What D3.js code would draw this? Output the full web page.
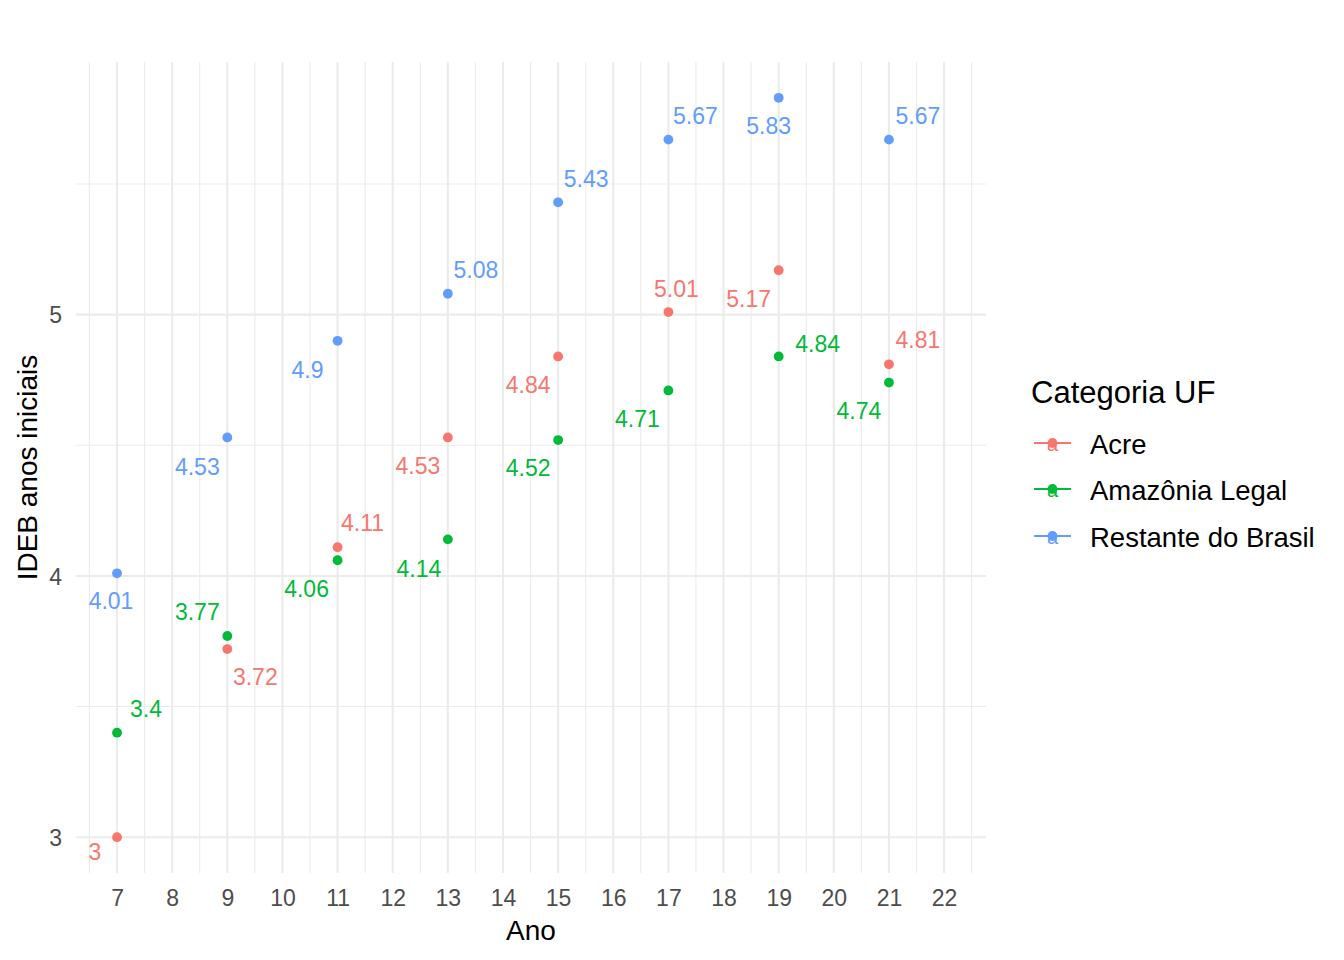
<!DOCTYPE html>
<html>
<head>
<meta charset="utf-8">
<script src="https://cdn.jsdelivr.net/npm/d3@7"></script>
<style>
  body { margin: 0; background: #fff; }
  svg { display: block; font-family: "Liberation Sans", Arial, sans-serif; }
</style>
</head>
<body>
<div id="chart"></div>
<script>
// data
const years = [7, 9, 11, 13, 15, 17, 19, 21];
const categories = ["Acre", "Amazônia Legal", "Restante do Brasil"];
const acre = [3.00, 3.72, 4.11, 4.53, 4.84, 5.01, 5.17, 4.81];
const amazonia = [3.40, 3.77, 4.06, 4.14, 4.52, 4.71, 4.84, 4.74];
const restante = [4.01, 4.53, 4.90, 5.08, 5.43, 5.67, 5.83, 5.67];
const xTicks = d3.range(7, 23);
const yTicks = [3, 4, 5];

// label placement (pixel offsets from the point, like ggrepel gave them)
const nudgeAcre = [[-22, 15], [28, 28], [25, -24], [-30, 28], [-30, 28], [8, -23], [-30, 28], [29, -25]];
const nudgeAmazonia = [[29, -24], [-30, -24], [-31, 28], [-29, 29], [-30, 28], [-31, 28], [39, -13], [-30, 28]];
const nudgeRestante = [[-6, 27], [-30, 29], [-30, 29], [28, -24], [28, -24], [27, -24], [-10, 28], [29, -24]];

const colors = ["#F8766D", "#00BA38", "#619CFF"];
const seriesValues = [acre, amazonia, restante];
const nudges = [nudgeAcre, nudgeAmazonia, nudgeRestante];

const width = 1344, height = 960;
const panel = { left: 76, right: 986, top: 62, bottom: 873 };

const svg = d3.select("#chart").append("svg")
    .attr("width", width)
    .attr("height", height);

svg.append("rect").attr("width", width).attr("height", height).attr("fill", "#fff");

const x = d3.scaleLinear().domain([6.256, 22.76]).range([panel.left, panel.right]);
const y = d3.scaleLinear().domain([2.863, 5.967]).range([panel.bottom, panel.top]);

// grid: minor first
const xMinor = d3.range(6.5, 23, 1).filter(v => v > x.domain()[0] && v < x.domain()[1]);
const yMinor = [3.5, 4.5, 5.5];
const grid = svg.append("g");
grid.selectAll(".xminor").data(xMinor).join("line")
    .attr("x1", d => x(d)).attr("x2", d => x(d))
    .attr("y1", panel.top).attr("y2", panel.bottom)
    .attr("stroke", "#EBEBEB").attr("stroke-width", 1.1);
grid.selectAll(".yminor").data(yMinor).join("line")
    .attr("y1", d => y(d)).attr("y2", d => y(d))
    .attr("x1", panel.left).attr("x2", panel.right)
    .attr("stroke", "#EBEBEB").attr("stroke-width", 1.1);
grid.selectAll(".xmajor").data(xTicks).join("line")
    .attr("x1", d => x(d)).attr("x2", d => x(d))
    .attr("y1", panel.top).attr("y2", panel.bottom)
    .attr("stroke", "#EBEBEB").attr("stroke-width", 2.1);
grid.selectAll(".ymajor").data(yTicks).join("line")
    .attr("y1", d => y(d)).attr("y2", d => y(d))
    .attr("x1", panel.left).attr("x2", panel.right)
    .attr("stroke", "#EBEBEB").attr("stroke-width", 2.1);

// axes (no lines, ticks only as labels)
const xAxis = svg.append("g")
    .attr("transform", `translate(0,${panel.bottom})`)
    .call(d3.axisBottom(x).tickValues(xTicks).tickSize(0).tickPadding(17).tickFormat(d3.format("d")));
const yAxis = svg.append("g")
    .attr("transform", `translate(${panel.left},0)`)
    .call(d3.axisLeft(y).tickValues(yTicks).tickSize(0).tickPadding(14).tickFormat(d3.format("d")));
[xAxis, yAxis].forEach(a => {
    a.select(".domain").remove();
    a.selectAll("text")
        .attr("fill", "#4D4D4D")
        .style("font-family", "Liberation Sans, Arial, sans-serif")
        .style("font-size", "23px");
});
yAxis.selectAll("text").attr("dy", "0.36em");

// axis titles
svg.append("text")
    .attr("x", (panel.left + panel.right) / 2)
    .attr("y", 940)
    .attr("text-anchor", "middle")
    .style("font-size", "28px")
    .text("Ano");

svg.append("text")
    .attr("transform", `translate(37,${(panel.top + panel.bottom) / 2}) rotate(-90)`)
    .attr("text-anchor", "middle")
    .style("font-size", "28px")
    .text("IDEB anos iniciais");

// points and labels
const fmt = v => String(+v.toFixed(2));
seriesValues.forEach((vals, s) => {
    const g = svg.append("g");
    g.selectAll("circle").data(vals).join("circle")
        .attr("cx", (d, i) => x(years[i]))
        .attr("cy", d => y(d))
        .attr("r", 4.9)
        .attr("fill", colors[s]);
    g.selectAll("text").data(vals).join("text")
        .attr("x", (d, i) => x(years[i]) + nudges[s][i][0])
        .attr("y", (d, i) => y(d) + nudges[s][i][1])
        .attr("dy", "0.36em")
        .attr("text-anchor", "middle")
        .attr("fill", colors[s])
        .style("font-size", "23px")
        .text(d => fmt(d));
});

// legend
const legend = svg.append("g");
legend.append("text")
    .attr("x", 1031).attr("y", 403)
    .style("font-size", "31px")
    .text("Categoria UF");
const keyY = [443, 489, 536];
categories.forEach((c, i) => {
    const k = legend.append("g").attr("transform", `translate(1052.5,${keyY[i]})`);
    k.append("line").attr("x1", -18.5).attr("x2", 18.5)
        .attr("stroke", colors[i]).attr("stroke-width", 2);
    k.append("text").attr("y", 8).attr("text-anchor", "middle")
        .attr("fill", colors[i]).style("font-size", "20px").text("a");
    k.append("circle").attr("r", 4.9).attr("fill", colors[i]);
    legend.append("text")
        .attr("x", 1090).attr("y", keyY[i] + 11)
        .style("font-size", "27.5px")
        .text(c);
});
</script>
</body>
</html>
